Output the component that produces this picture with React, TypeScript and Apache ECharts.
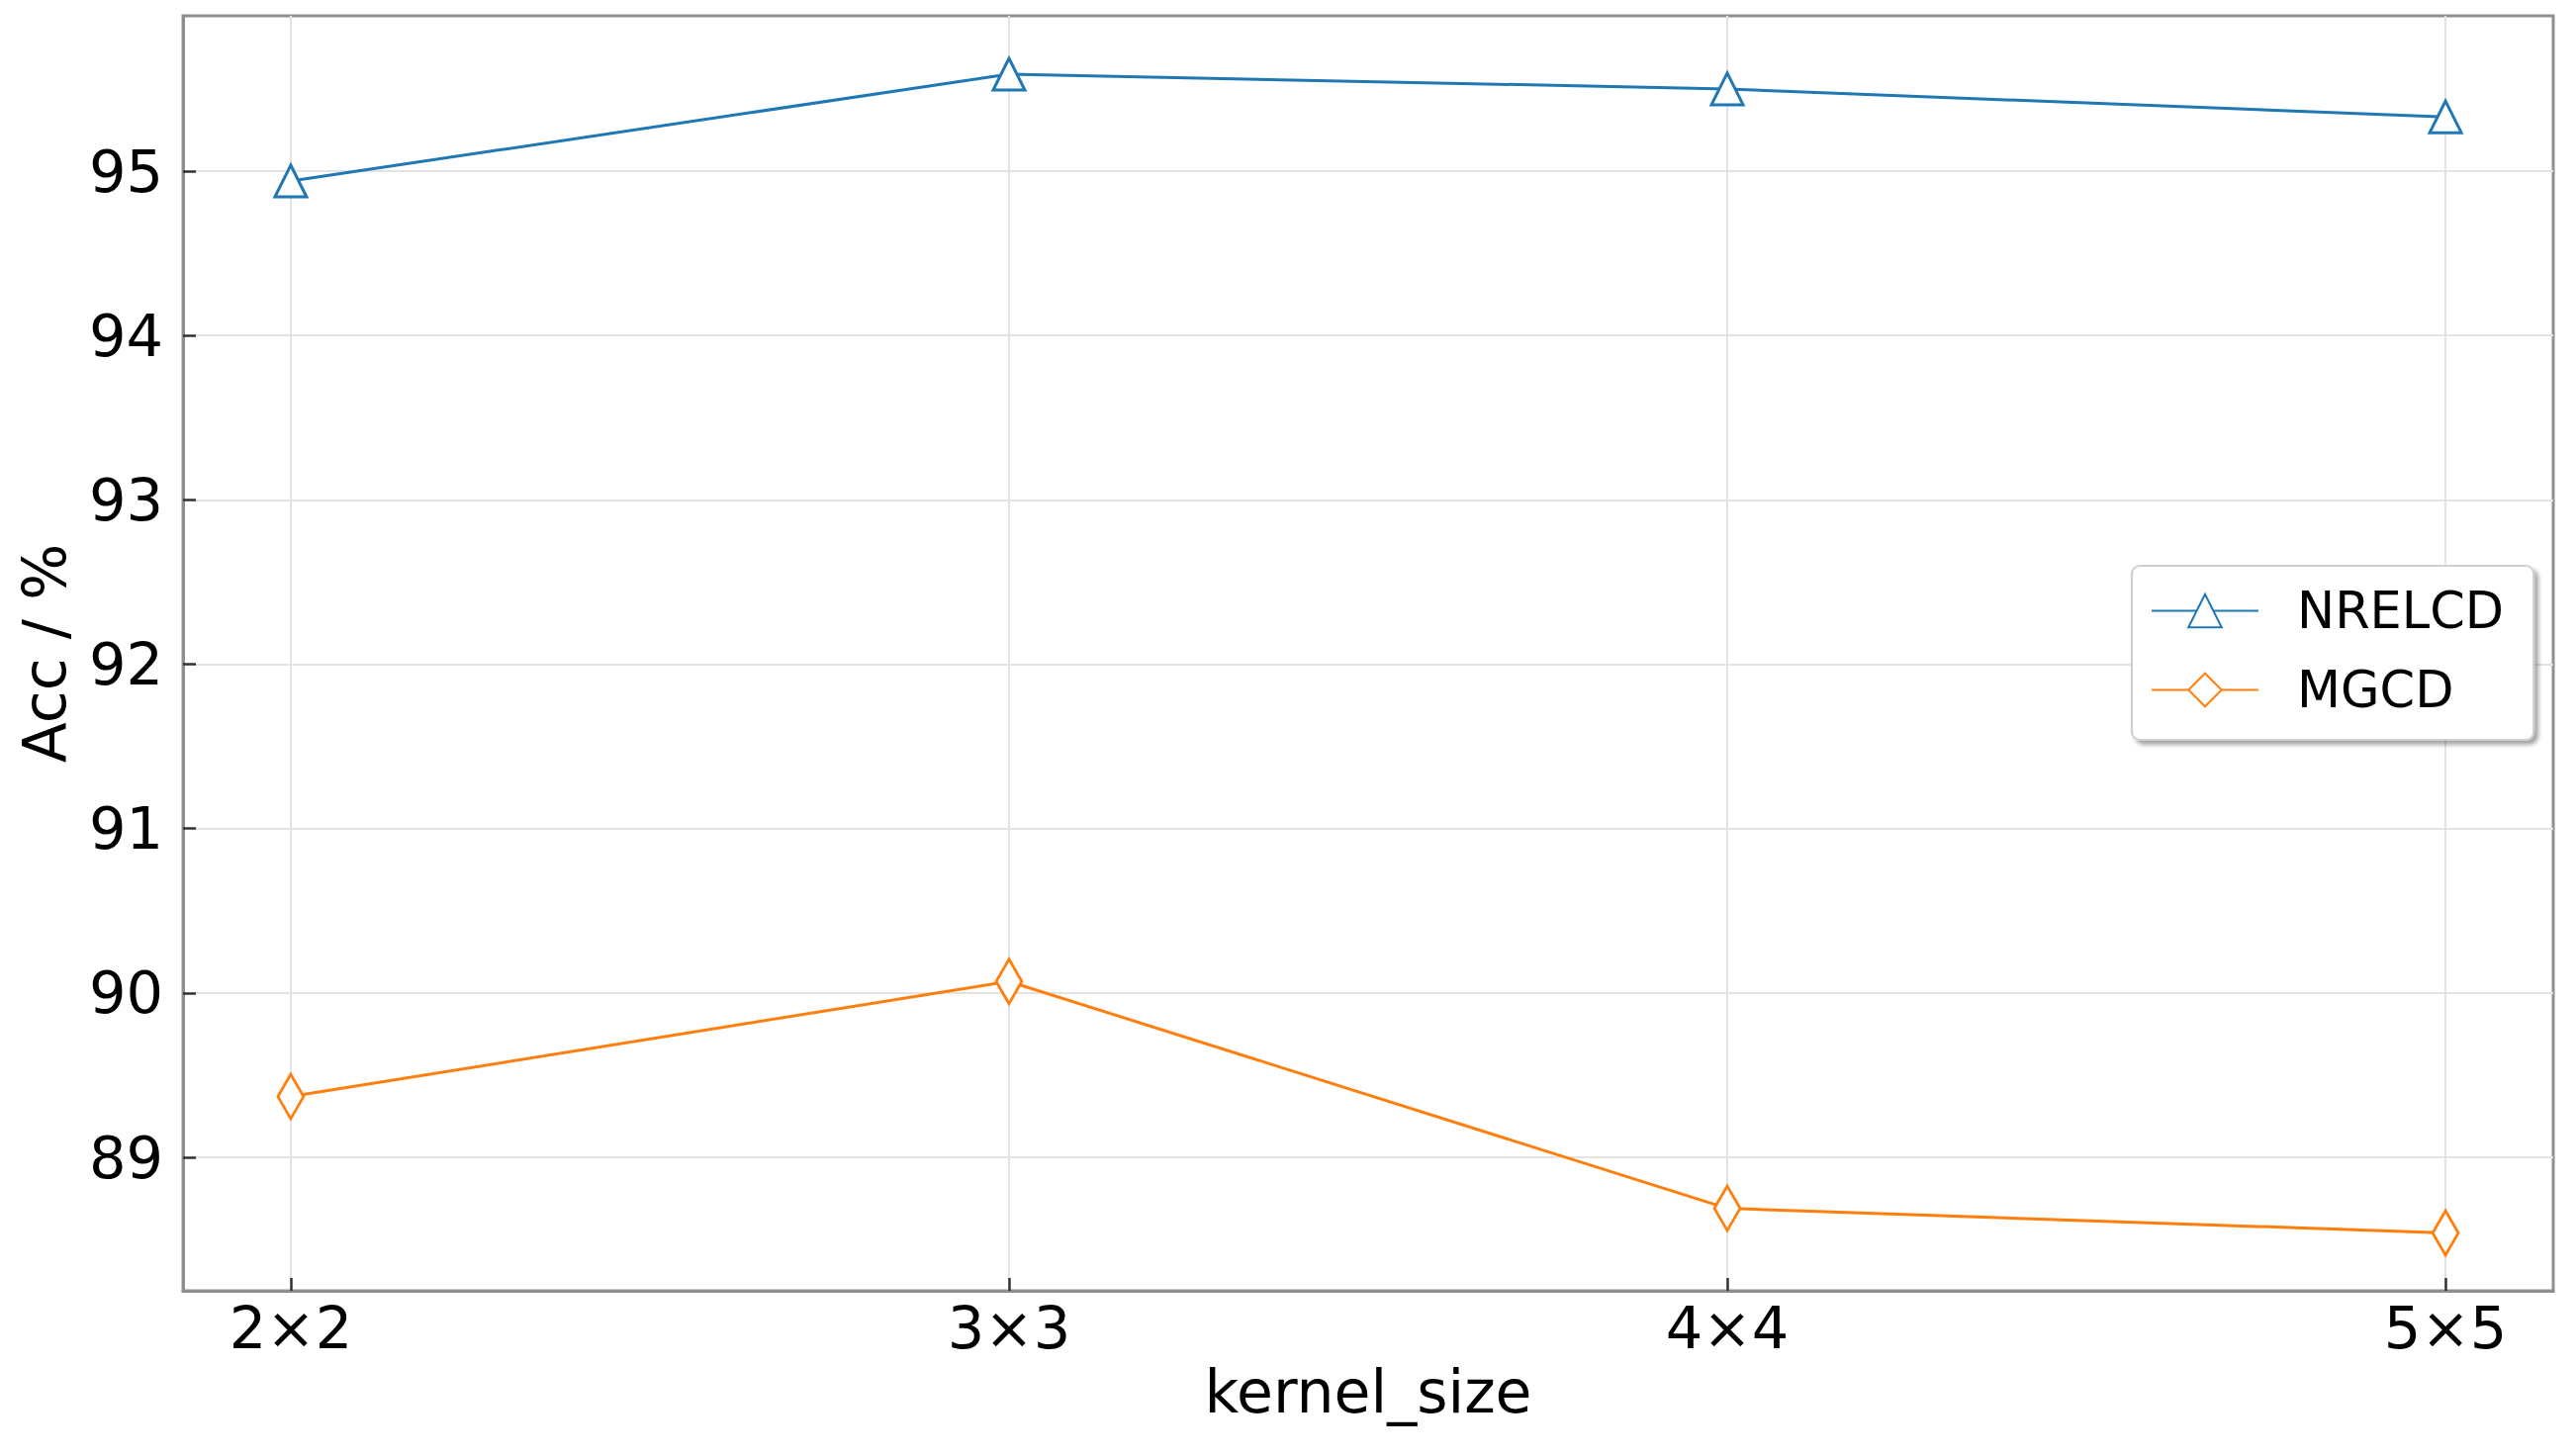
import React, { useEffect, useRef } from 'react';
import * as echarts from 'echarts';

const categories = ['2×2', '3×3', '4×4', '5×5'];
const nrelcd = [94.94, 95.59, 95.5, 95.33];
const mgcd = [89.37, 90.07, 88.69, 88.54];
const yTicks = [89, 90, 91, 92, 93, 94, 95];
const seriesNames = ['NRELCD', 'MGCD'];

const FONT = 'DejaVu Sans';
const BLUE = '#1f77b4';
const ORANGE = '#ff7f0e';

export default function App() {
  const ref = useRef<HTMLDivElement>(null);
  useEffect(() => {
    const chart = echarts.init(ref.current!, null, { renderer: 'svg' });
    const xIdx = categories.map((_, i) => i);
    chart.setOption({
      animation: false,
      backgroundColor: '#fff',
      grid: {
        left: 185, right: 23, top: 16, bottom: 167,
        show: true, borderColor: '#8f8f8f', borderWidth: 3,
        containLabel: false, outerBoundsMode: 'none',
      },
      xAxis: {
        type: 'value', min: -0.15, max: 3.15,
        axisLine: { show: true, onZero: false, lineStyle: { color: '#8f8f8f', width: 3 } },
        axisTick: { show: true, inside: true, length: 13, customValues: xIdx, lineStyle: { color: '#333', width: 2.5 } },
        axisLabel: {
          customValues: xIdx,
          formatter: (v: number) => categories[Math.round(v)],
          fontSize: 59, color: '#000', fontFamily: FONT, margin: 8,
        },
        splitLine: { show: true, lineStyle: { color: '#e3e3e3', width: 2 } },
        name: 'kernel_size', nameLocation: 'middle', nameGap: 70,
        nameTextStyle: { fontSize: 60, color: '#000', fontFamily: FONT },
      },
      yAxis: {
        type: 'value', min: 88.188, max: 95.945,
        axisLine: { show: true, onZero: false, lineStyle: { color: '#8f8f8f', width: 3 } },
        axisTick: { show: true, inside: true, length: 13, customValues: yTicks, lineStyle: { color: '#333', width: 2.5 } },
        axisLabel: {
          customValues: yTicks,
          fontSize: 59, color: '#000', fontFamily: FONT, margin: 20,
        },
        splitLine: { show: true, lineStyle: { color: '#e3e3e3', width: 2 } },
        name: 'Acc / %', nameLocation: 'middle', nameGap: 110, nameRotate: 90,
        nameTextStyle: { fontSize: 60, color: '#000', fontFamily: FONT },
      },
      legend: {
        data: seriesNames,
        left: 2155, top: 572, orient: 'vertical',
        padding: [20, 30, 25, 19],
        itemWidth: 108, itemHeight: 42, itemGap: 29,
        backgroundColor: '#fff', borderColor: '#cfcfcf', borderWidth: 2, borderRadius: 8,
        shadowColor: 'rgba(0,0,0,0.35)', shadowBlur: 4, shadowOffsetX: 4, shadowOffsetY: 4,
        textStyle: { fontSize: 51, fontFamily: FONT, color: '#000', padding: [0, 0, 0, 34] },
      },
      series: [
        {
          name: seriesNames[0], type: 'line',
          data: nrelcd.map((v, i) => [xIdx[i], v]),
          symbol: 'triangle', symbolSize: 32,
          color: BLUE,
          lineStyle: { color: BLUE, width: 3 },
          itemStyle: { color: '#fff', borderColor: BLUE, borderWidth: 3 },
        },
        {
          name: seriesNames[1], type: 'line',
          data: mgcd.map((v, i) => [xIdx[i], v]),
          symbol: 'diamond', symbolSize: [26, 45],
          color: ORANGE,
          lineStyle: { color: ORANGE, width: 3 },
          itemStyle: { color: '#fff', borderColor: ORANGE, borderWidth: 3 },
        },
      ],
    });
    return () => chart.dispose();
  }, []);
  return (
    <div
      ref={ref}
      style={{ position: 'absolute', left: 0, top: 0, width: 2604, height: 1472, background: '#fff' }}
    />
  );
}
